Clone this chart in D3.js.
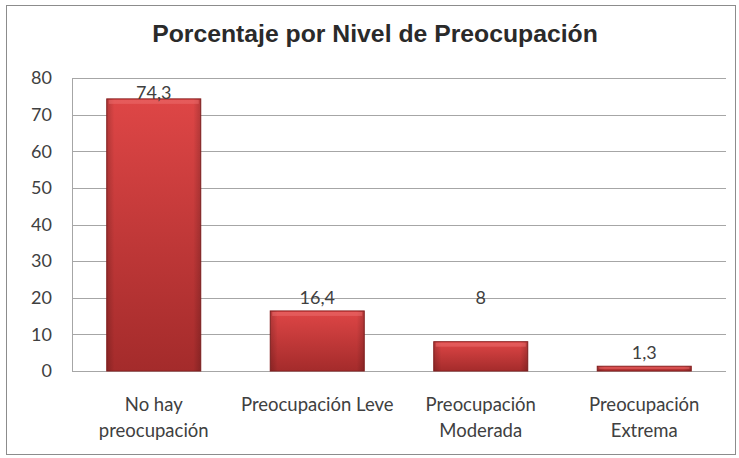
<!DOCTYPE html>
<html><head><meta charset="utf-8">
<script src="https://cdn.jsdelivr.net/npm/d3@7"></script>
<style>body{margin:0;background:#fff}svg{display:block}</style>
</head><body>
<script>
const categories = [["No hay","preocupación"],["Preocupación Leve"],["Preocupación","Moderada"],["Preocupación","Extrema"]];
const values = [74.3, 16.4, 8, 1.3];
const valueLabels = ["74,3","16,4","8","1,3"];
const yTicks = [0,10,20,30,40,50,60,70,80];
const title = "Porcentaje por Nivel de Preocupación";
// layout: label vertical centre as value in axis units (Excel placed)
const labelAt = [76.2, 20.1, 20.3, 5.1];

const W=739,H=458;
const svg=d3.select("body").append("svg").attr("width",W).attr("height",H);
const defs=svg.append("defs");
const g1=defs.append("linearGradient").attr("id","gv").attr("x1",0).attr("y1",0).attr("x2",0).attr("y2",1);
g1.append("stop").attr("offset",0).attr("stop-color","#de4646");
g1.append("stop").attr("offset",1).attr("stop-color","#a42b2b");
const g2=defs.append("linearGradient").attr("id","gh").attr("x1",0).attr("y1",0).attr("x2",1).attr("y2",0);
g2.append("stop").attr("offset",0).attr("stop-color","#000").attr("stop-opacity",0.18);
g2.append("stop").attr("offset",0.08).attr("stop-color","#000").attr("stop-opacity",0);
g2.append("stop").attr("offset",0.92).attr("stop-color","#000").attr("stop-opacity",0);
g2.append("stop").attr("offset",1).attr("stop-color","#000").attr("stop-opacity",0.18);

svg.append("rect").attr("x",6.5).attr("y",5.5).attr("width",729).attr("height",449)
  .attr("fill","#fff").attr("stroke","#8c8c8c").attr("stroke-width",1);

const pL=72, pR=726, pT=78, pB=371;
const x=d3.scaleBand().domain(d3.range(values.length)).range([pL,pR]).paddingInner(0.425).paddingOuter(0.2125);
const y=d3.scaleLinear().domain([0,80]).range([pB,pT]);

const tt=svg.append("text").attr("x",375).attr("y",42).attr("text-anchor","middle")
  .attr("font-family","Liberation Sans, Arial, sans-serif").attr("font-weight","bold").attr("font-size",21).attr("fill","#2a2a2a").text(title);
// fit title to reference width
const tw=tt.node().getComputedTextLength();
tt.attr("font-size",21*446/tw);

// grid
svg.append("g").selectAll("line").data(yTicks).join("line")
  .attr("x1",pL).attr("x2",pR).attr("y1",d=>Math.round(y(d))+0.5).attr("y2",d=>Math.round(y(d))+0.5)
  .attr("stroke","#a6a6a6").attr("stroke-width",1);
svg.append("line").attr("x1",pL+0.5).attr("x2",pL+0.5).attr("y1",pT).attr("y2",pB+0.5).attr("stroke","#a6a6a6");

const yAxis=d3.axisLeft(y).tickValues(yTicks).tickSize(0).tickPadding(0);
const ya=svg.append("g").attr("transform",`translate(52,0)`).call(yAxis);
ya.select(".domain").remove();
ya.selectAll("text").attr("font-family","Lato, Carlito, sans-serif").attr("font-size",18).attr("fill","#404040");

// bars
const bars=svg.append("g").selectAll("g").data(values).join("g");
bars.append("rect").attr("x",(d,i)=>x(i)).attr("width",x.bandwidth())
  .attr("y",d=>y(d)).attr("height",d=>y(0)-y(d)).attr("fill","url(#gv)").attr("stroke","#8a2222").attr("stroke-width",1);
bars.append("rect").attr("x",(d,i)=>x(i)).attr("width",x.bandwidth())
  .attr("y",d=>y(d)).attr("height",d=>y(0)-y(d)).attr("fill","url(#gh)");
bars.append("rect").attr("x",(d,i)=>x(i)+2).attr("width",x.bandwidth()-4)
  .attr("y",d=>y(d)+1).attr("height",d=>Math.min(4,(y(0)-y(d))/3)).attr("fill","#ee7070").attr("opacity",0.5);

svg.append("g").selectAll("text").data(values).join("text")
  .attr("x",(d,i)=>x(i)+x.bandwidth()/2).attr("y",(d,i)=>y(labelAt[i]))
  .attr("text-anchor","middle").attr("dominant-baseline","central")
  .attr("font-family","Lato, Carlito, sans-serif").attr("font-size",18).attr("fill","#404040")
  .text((d,i)=>valueLabels[i]);

const cat=svg.append("g").selectAll("text").data(categories).join("text")
  .attr("x",(d,i)=>x(i)+x.bandwidth()/2).attr("y",405)
  .attr("text-anchor","middle").attr("font-family","Lato, Carlito, sans-serif").attr("font-size",18.5).attr("fill","#404040");
cat.selectAll("tspan").data(d=>d).join("tspan")
  .attr("x",function(){return this.parentNode.getAttribute("x");})
  .attr("dy",(d,i)=>i===0?"0.35em":"26px").text(d=>d);
</script>
</body></html>
